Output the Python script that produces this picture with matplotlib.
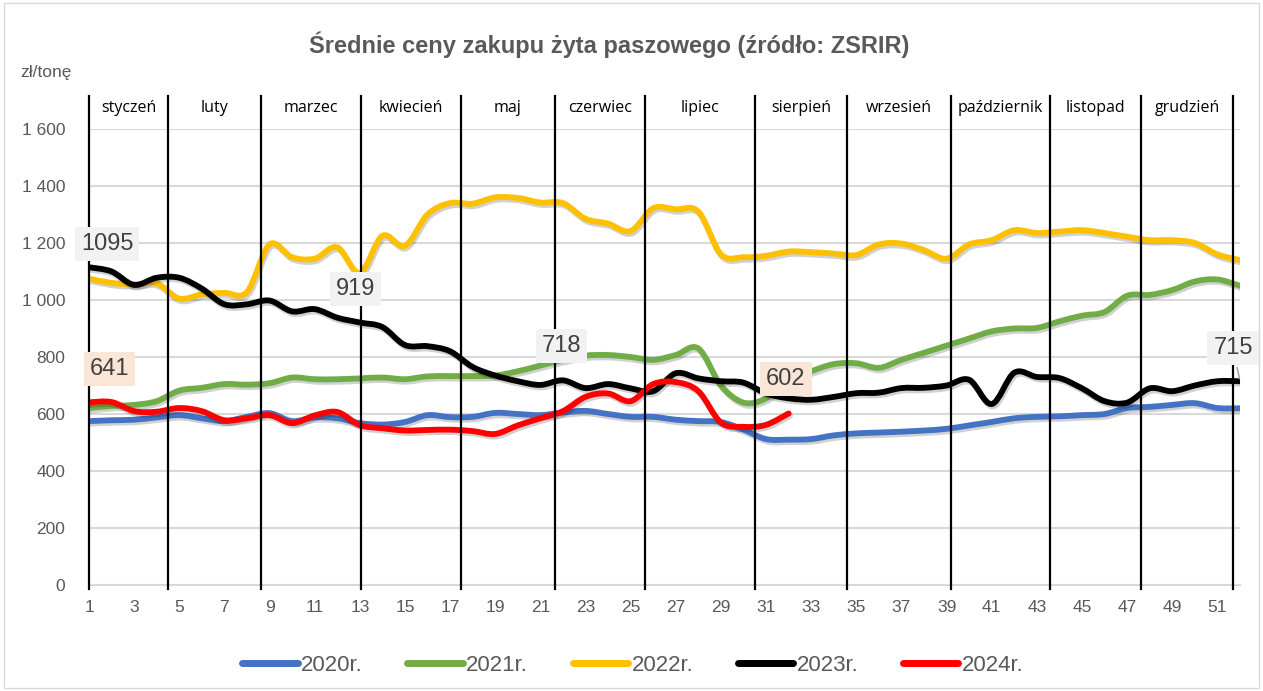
import numpy as np
import matplotlib
matplotlib.use("Agg")
import matplotlib.pyplot as plt
import matplotlib.patheffects as pe
from matplotlib.patches import Rectangle, PathPatch
from matplotlib.path import Path
from matplotlib.lines import Line2D
from matplotlib.ticker import FuncFormatter

plt.rcParams['font.family'] = ['Liberation Sans', 'DejaVu Sans']

# tygodnie roku
weeks = list(range(1, 53))

ceny_2020 = [575, 578, 580, 588, 596, 585, 575, 590, 603, 575, 588, 585, 568, 563, 572, 596,
             589, 590, 604, 600, 596, 605, 611, 600, 590, 590, 580, 575, 572, 545, 512, 510,
             512, 525, 532, 535, 538, 542, 548, 560, 572, 585, 590, 592, 596, 600, 621, 625,
             632, 638, 621, 620]
ceny_2021 = [621, 628, 632, 645, 682, 692, 705, 703, 708, 728, 722, 722, 725, 728, 722, 732,
             733, 733, 735, 750, 770, 790, 805, 807, 800, 790, 807, 830, 700, 640, 655, 720,
             750, 775, 778, 762, 790, 815, 840, 865, 890, 900, 902, 925, 945, 958, 1015, 1018,
             1035, 1065, 1072, 1050]
ceny_2022 = [1075, 1060, 1055, 1058, 1005, 1020, 1025, 1028, 1195, 1150, 1145, 1185, 1095, 1225,
             1190, 1300, 1340, 1338, 1360, 1358, 1342, 1340, 1285, 1268, 1242, 1322, 1318, 1310,
             1160, 1150, 1155, 1170, 1168, 1163, 1158, 1195, 1198, 1175, 1145, 1195, 1210, 1245,
             1235, 1240, 1245, 1235, 1222, 1210, 1210, 1200, 1160, 1140]
ceny_2023 = [1115, 1100, 1053, 1078, 1078, 1040, 985, 985, 998, 960, 968, 938, 921, 905, 842,
             838, 820, 765, 735, 715, 702, 718, 691, 705, 690, 680, 743, 725, 715, 710, 672, 655,
             650, 660, 673, 675, 691, 692, 700, 720, 635, 745, 730, 726, 690, 645, 640, 690, 680,
             700, 715, 715]
ceny_2024 = [641, 642, 610, 608, 621, 610, 578, 585, 596, 568, 595, 607, 561, 550, 542, 544,
             545, 540, 530, 560, 585, 610, 660, 672, 645, 705, 712, 680, 570, 555, 562, 602]

serie = [("2020r.", ceny_2020, "#4472C4"),
         ("2021r.", ceny_2021, "#70AD47"),
         ("2022r.", ceny_2022, "#FFC000"),
         ("2023r.", ceny_2023, "#000000"),
         ("2024r.", ceny_2024, "#FF0000")]

# granice miesiecy (w tygodniach) i nazwy
granice = [1, 4.5, 8.62, 13.05, 17.47, 21.64, 25.62, 30.5, 34.6, 39.2, 43.6, 47.6, 51.7]
miesiace = ["styczeń", "luty", "marzec", "kwiecień", "maj", "czerwiec", "lipiec",
            "sierpień", "wrzesień", "październik", "listopad", "grudzień"]

# etykiety danych: (indeks serii, tydzien, tekst, przesuniecie, tlo)
etykiety = [(3, 1, "1095", (13, 9), "#F2F2F2"),
            (3, 13, "919", (-3, 16), "#F2F2F2"),
            (3, 22, "718", (-1, 17), "#F2F2F2"),
            (4, 1, "641", (15, 16), "#FBE5D6"),
            (4, 32, "602", (-2, 17), "#FBE5D6"),
            (3, 52, "715", (-5, 16), "#F2F2F2")]


def gladka_sciezka(xs, ys):
    # krzywa jak "wygladzona linia" w Excelu (Catmull-Rom -> Bezier)
    p = np.column_stack([xs, ys]).astype(float)
    verts = [p[0]]
    codes = [Path.MOVETO]
    for i in range(len(p) - 1):
        p0 = p[i - 1] if i > 0 else p[i]
        p3 = p[i + 2] if i + 2 < len(p) else p[i + 1]
        c1 = p[i] + (p[i + 1] - p0) / 6
        c2 = p[i + 1] - (p3 - p[i]) / 6
        verts += [c1, c2, p[i + 1]]
        codes += [Path.CURVE4] * 3
    return Path(verts, codes)


fig = plt.figure(figsize=(12.63, 6.91), dpi=100)
ax = fig.add_axes([89 / 1263, 1 - 585 / 691, (1240 - 89) / 1263, (585 - 129) / 691])

fig.patches.append(Rectangle((0.003, 0.004), 0.994, 0.992, transform=fig.transFigure,
                             fill=False, edgecolor="#D9D9D9", lw=1))

cien = [pe.SimpleLineShadow(offset=(1, -1.8), alpha=0.18, shadow_color="black"), pe.Normal()]
uchwyty = []
for nazwa, ceny, kolor in serie:
    sciezka = gladka_sciezka(weeks[:len(ceny)], ceny)
    ax.add_patch(PathPatch(sciezka, fill=False, edgecolor=kolor, lw=4.2, capstyle="round",
                           joinstyle="round", path_effects=cien, zorder=3))
    uchwyty.append(Line2D([], [], color=kolor, lw=5, solid_capstyle="round", label=nazwa))

ax.set_xlim(1, 52)
ax.set_ylim(0, 1600)
ax.set_yticks(range(0, 1601, 200))
ax.yaxis.set_major_formatter(FuncFormatter(lambda v, p: f"{v:,.0f}".replace(",", " ")))
ax.set_xticks(range(1, 52, 2))
ax.tick_params(axis="both", length=0, colors="#595959", labelsize=12.5)
ax.tick_params(axis="x", pad=11)
ax.tick_params(axis="y", pad=17)
ax.grid(axis="y", color="#D9D9D9", lw=1.5)
ax.set_axisbelow(True)
for s in ["top", "right", "left"]:
    ax.spines[s].set_visible(False)
ax.spines["bottom"].set_color("#D9D9D9")
ax.spines["bottom"].set_linewidth(1.5)

# pionowe linie miesiecy i nazwy
for g in granice:
    ax.plot([g, g], [-15, 1715], color="black", lw=1.6, zorder=5, clip_on=False)
for i, m in enumerate(miesiace):
    srodek = (granice[i] + granice[i + 1]) / 2
    ax.text(srodek, 1672, m, ha="center", va="center", fontsize=11.5, color="black",
            family=["Open Sans", "DejaVu Sans"], zorder=6, clip_on=False)

for idx, tydz, tekst, off, tlo in etykiety:
    y = serie[idx][1][tydz - 1]
    ax.annotate(tekst, (tydz, y), xytext=off, textcoords="offset points",
                ha="center", va="bottom", fontsize=17, color="#404040",
                bbox=dict(boxstyle="square,pad=0.25", fc=tlo, ec="none"),
                arrowprops=dict(arrowstyle="-", color="#A6A6A6", lw=1.2) if tydz == 52 else None,
                zorder=7, annotation_clip=False)

fig.text(0.482, 0.935, "Średnie ceny zakupu żyta paszowego (źródło: ZSRIR)", ha="center",
         va="center", fontsize=17, fontweight="bold", color="#595959")
fig.text(0.016, 0.895, "zł/tonę", ha="left", va="center", fontsize=12.5, color="#595959")

leg = fig.legend(handles=uchwyty, loc="center", bbox_to_anchor=(0.501, 0.037), ncol=5,
                 frameon=False, fontsize=16, handlelength=2.5, handletextpad=0.15,
                 columnspacing=2.0, labelcolor="#595959")

fig.savefig("out.png", dpi=100)
